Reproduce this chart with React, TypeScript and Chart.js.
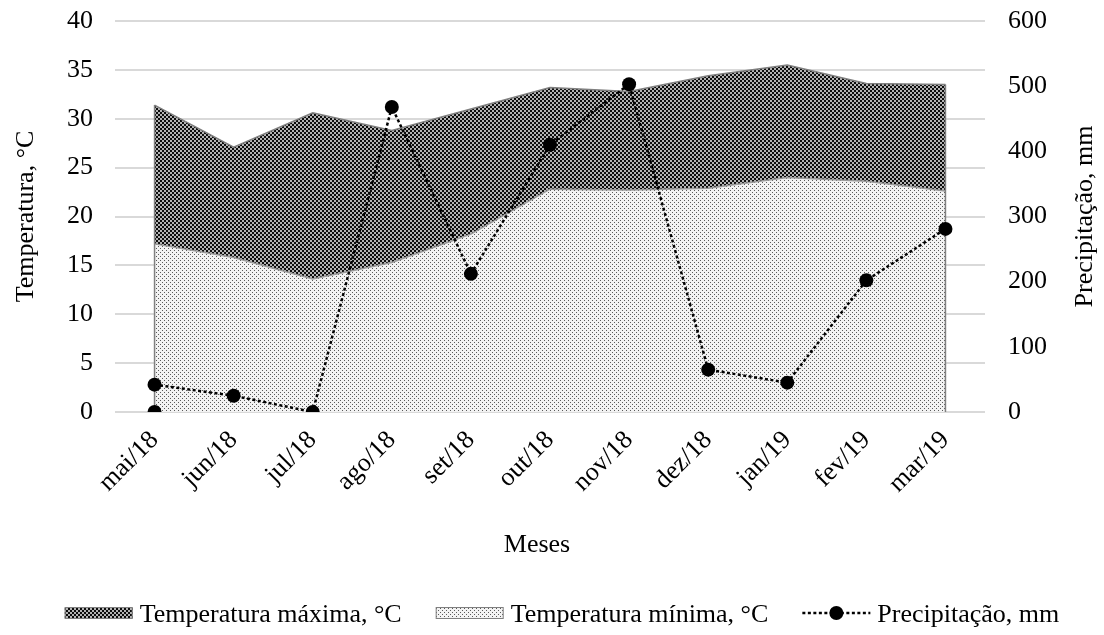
import React, { useEffect, useRef } from 'react';
import { Chart, registerables } from 'chart.js';

Chart.register(...registerables);

const categories = ['mai/18', 'jun/18', 'jul/18', 'ago/18', 'set/18', 'out/18', 'nov/18', 'dez/18', 'jan/19', 'fev/19', 'mar/19'];
const tempMax = [31.4, 27.1, 30.6, 28.8, 31.0, 33.2, 32.8, 34.4, 35.5, 33.6, 33.5];
const tempMin = [17.2, 15.8, 13.6, 15.3, 18.2, 22.8, 22.7, 22.9, 24.0, 23.6, 22.6];
const precip = [42, 25, 0, 468, 212, 410, 503, 65, 45, 202, 281];
const precipExtra = [0, null, null, null, null, null, null, null, null, null, null];

const labelMax = 'Temperatura máxima, °C';
const labelMin = 'Temperatura mínima, °C';
const labelPrecip = 'Precipitação, mm';
const titleLeft = 'Temperatura, °C';
const titleRight = 'Precipitação, mm';
const titleX = 'Meses';

const FONT = "'Liberation Serif', 'Times New Roman', serif";
const FS = 26;

function makeDarkPattern(ctx: CanvasRenderingContext2D) {
  const c = document.createElement('canvas');
  c.width = 4; c.height = 4;
  const g = c.getContext('2d')!;
  for (let y = 0; y < 4; y++) {
    for (let x = 0; x < 4; x++) {
      const on = ((Math.floor(x / 2) + Math.floor(y / 2)) % 2) === 0;
      g.fillStyle = on ? '#0d0d0d' : '#b4b4b4';
      g.fillRect(x, y, 1, 1);
    }
  }
  return ctx.createPattern(c, 'repeat')!;
}

function makeLightPattern(ctx: CanvasRenderingContext2D) {
  const c = document.createElement('canvas');
  c.width = 4; c.height = 4;
  const g = c.getContext('2d')!;
  g.fillStyle = '#f3f3f3';
  g.fillRect(0, 0, 4, 4);
  g.fillStyle = '#5a5a5a';
  g.fillRect(0, 0, 1, 1);
  g.fillRect(2, 2, 1, 1);
  return ctx.createPattern(c, 'repeat')!;
}

export default function App() {
  const ref = useRef<HTMLCanvasElement>(null);

  useEffect(() => {
    const canvas = ref.current!;
    const ctx = canvas.getContext('2d')!;
    const dark = makeDarkPattern(ctx);
    const light = makeLightPattern(ctx);

    const extras = {
      id: 'extras',
      afterDatasetDraw(chart: any, args: any) {
        if (args.index !== 1) return;
        const c = chart.ctx as CanvasRenderingContext2D;
        const xs = chart.scales.x;
        const ys = chart.scales.y;
        c.save();
        c.strokeStyle = '#808080';
        c.lineWidth = 1.5;
        [0, categories.length - 1].forEach((i) => {
          const px = xs.getPixelForValue(i);
          c.beginPath();
          c.moveTo(px, ys.getPixelForValue(0));
          c.lineTo(px, ys.getPixelForValue(tempMax[i]));
          c.stroke();
        });
        c.restore();
      },
      afterDraw(chart: any) {
        const c = chart.ctx as CanvasRenderingContext2D;
        const area = chart.chartArea;
        c.save();
        c.font = `${FS}px ${FONT}`;
        c.fillStyle = '#000';
        // right axis title (reads bottom to top)
        c.save();
        c.translate(1085, (area.top + area.bottom) / 2);
        c.rotate(-Math.PI / 2);
        c.textAlign = 'center';
        c.textBaseline = 'middle';
        c.fillText(titleRight, 0, 0);
        c.restore();

        // x axis title
        c.textAlign = 'center';
        c.textBaseline = 'alphabetic';
        c.fillText(titleX, 537, 552);

        // legend
        const symW = 68, gapIn = 7, gapOut = 34;
        const items = [labelMax, labelMin, labelPrecip];
        const widths = items.map((t) => c.measureText(t).width);
        const total = widths.reduce((a, w) => a + w + symW + gapIn, 0) + gapOut * (items.length - 1);
        let x = 562 - total / 2;
        const cy = 613;
        c.textAlign = 'left';
        c.textBaseline = 'alphabetic';
        items.forEach((t, i) => {
          if (i < 2) {
            c.fillStyle = i === 0 ? dark : light;
            c.fillRect(x, cy - 6, symW, 12);
            c.strokeStyle = '#808080';
            c.lineWidth = 1;
            c.strokeRect(x + 0.5, cy - 5.5, symW - 1, 11);
          } else {
            c.save();
            c.strokeStyle = '#000';
            c.lineWidth = 2.5;
            c.setLineDash([3, 2.5]);
            c.beginPath();
            c.moveTo(x, cy);
            c.lineTo(x + symW, cy);
            c.stroke();
            c.restore();
            c.fillStyle = '#000';
            c.beginPath();
            c.arc(x + symW / 2, cy, 7, 0, Math.PI * 2);
            c.fill();
          }
          x += symW + gapIn;
          c.fillStyle = '#000';
          c.fillText(t, x, cy + 9);
          x += widths[i] + gapOut;
        });
        c.restore();
      },
    };

    const chart = new Chart(canvas, {
      type: 'line',
      data: {
        labels: categories,
        datasets: [
          {
            label: labelMax,
            data: tempMax,
            yAxisID: 'y',
            backgroundColor: dark,
            borderColor: '#808080',
            borderWidth: 1.5,
            fill: 'origin',
            pointRadius: 0,
            tension: 0,
            order: 3,
          },
          {
            label: labelMin,
            data: tempMin,
            yAxisID: 'y',
            backgroundColor: light,
            borderColor: '#9a9a9a',
            borderWidth: 1.5,
            fill: 'origin',
            pointRadius: 0,
            tension: 0,
            order: 2,
          },
          {
            label: labelPrecip,
            data: precip,
            yAxisID: 'y1',
            borderColor: '#000',
            backgroundColor: '#000',
            borderWidth: 2.5,
            borderDash: [3, 2.5],
            fill: false,
            pointRadius: 7,
            pointBackgroundColor: '#000',
            pointBorderWidth: 0,
            tension: 0,
            order: 1,
          },
          {
            label: 'extra',
            data: precipExtra as any,
            yAxisID: 'y1',
            showLine: false,
            borderColor: '#000',
            backgroundColor: '#000',
            pointRadius: 7,
            pointBorderWidth: 0,
            fill: false,
            order: 0,
          },
        ],
      },
      options: {
        responsive: false,
        animation: false,
        layout: { padding: { top: 21, left: 0, right: 0, bottom: 60 } },
        plugins: {
          legend: { display: false },
          tooltip: { enabled: false },
        },
        scales: {
          x: {
            offset: true,
            grid: { display: false, drawTicks: false },
            border: { display: false },
            ticks: {
              autoSkip: false,
              minRotation: 45,
              maxRotation: 45,
              padding: 13,
              color: '#000',
              font: { family: FONT, size: FS },
            },
            afterFit: (s: any) => { s.height = 163; },
          },
          y: {
            position: 'left',
            min: 0,
            max: 40,
            ticks: { stepSize: 5, padding: 22, color: '#000', font: { family: FONT, size: FS } },
            grid: { color: '#d9d9d9', lineWidth: 2, drawTicks: false },
            border: { display: false },
            title: {
              display: true,
              text: titleLeft,
              color: '#000',
              font: { family: FONT, size: FS, lineHeight: 1.2 },
              padding: { top: 11, bottom: 0 },
            },
            afterFit: (s: any) => { s.width = 115; s.paddingTop = 0; s.paddingBottom = 0; },
          },
          y1: {
            position: 'right',
            min: 0,
            max: 600,
            ticks: { stepSize: 100, padding: 23, color: '#000', font: { family: FONT, size: FS } },
            grid: { display: false, drawTicks: false },
            border: { display: false },
            afterFit: (s: any) => { s.width = 119; s.paddingTop = 0; s.paddingBottom = 0; },
          },
        },
      },
      plugins: [extras],
    });
    return () => chart.destroy();
  }, []);

  return (
    <div style={{ position: 'absolute', left: 0, top: 0, width: 1104, height: 635 }}>
      <canvas ref={ref} width={1104} height={635} style={{ display: 'block' }} />
    </div>
  );
}
